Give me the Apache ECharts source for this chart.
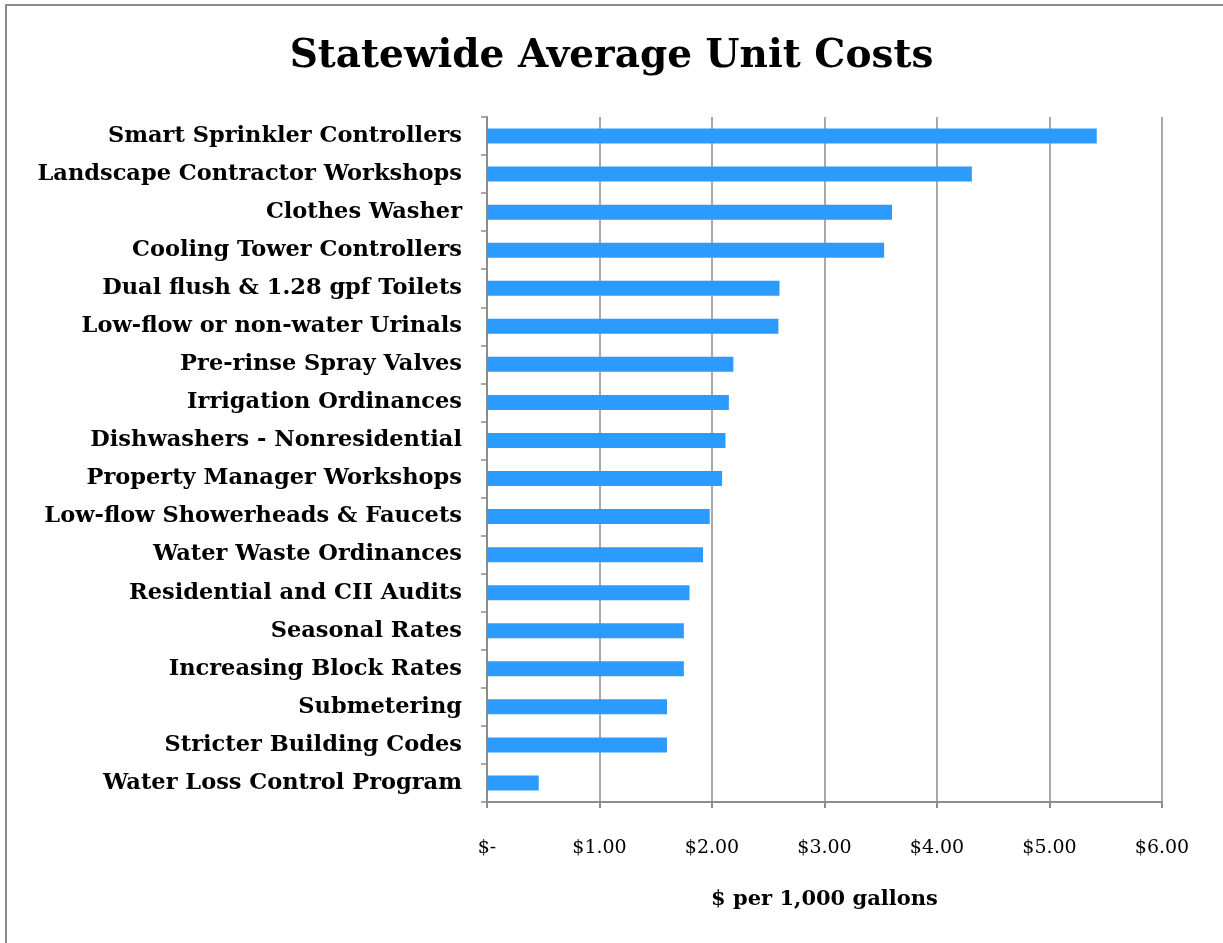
<!DOCTYPE html>
<html><head><meta charset="utf-8">
<script src="https://cdn.jsdelivr.net/npm/echarts@6/dist/echarts.min.js"></script>
<style>
html,body{margin:0;padding:0;overflow:hidden;background:#fff;}
#frame{position:absolute;left:5px;top:4px;width:1260px;height:980px;border:2px solid #8a8a8a;box-sizing:border-box;}
#main{position:absolute;left:0;top:0;width:1223px;height:943px;}
</style></head>
<body>
<div id="frame"></div>
<div id="main"></div>
<script>
const categories = [
  "Smart Sprinkler Controllers",
  "Landscape Contractor Workshops",
  "Clothes Washer",
  "Cooling Tower Controllers",
  "Dual flush & 1.28 gpf Toilets",
  "Low-flow or non-water Urinals",
  "Pre-rinse Spray Valves",
  "Irrigation Ordinances",
  "Dishwashers - Nonresidential",
  "Property Manager Workshops",
  "Low-flow Showerheads & Faucets",
  "Water Waste Ordinances",
  "Residential and CII Audits",
  "Seasonal Rates",
  "Increasing Block Rates",
  "Submetering",
  "Stricter Building Codes",
  "Water Loss Control Program"
];
const costs = [5.42, 4.31, 3.60, 3.53, 2.60, 2.59, 2.19, 2.15, 2.12, 2.09, 1.98, 1.92, 1.80, 1.75, 1.75, 1.60, 1.60, 0.46];
const xTicks = [0, 1, 2, 3, 4, 5, 6];

const FONT = "DejaVu Serif";
const chart = echarts.init(document.getElementById('main'), null, {renderer: 'canvas'});
chart.setOption({
  animation: false,
  title: {
    text: "Statewide Average Unit Costs",
    left: 'center', top: 32,
    textStyle: {fontFamily: FONT, fontWeight: 'bold', fontSize: 39, color: '#000'}
  },
  grid: {left: 487, right: 61, top: 117, bottom: 141, containLabel: false},
  xAxis: {
    type: 'value', min: xTicks[0], max: xTicks[xTicks.length - 1], interval: 1,
    name: "$ per 1,000 gallons", nameLocation: 'middle', nameGap: 87,
    nameTextStyle: {fontFamily: FONT, fontWeight: 'bold', fontSize: 21, color: '#000'},
    axisLine: {show: true, lineStyle: {color: '#8c8c8c', width: 2}},
    axisTick: {show: true, length: 6, lineStyle: {color: '#8c8c8c', width: 2}},
    splitLine: {show: true, lineStyle: {color: '#8c8c8c', width: 1.5}},
    axisLabel: {
      margin: 37, fontFamily: FONT, fontSize: 19, color: '#000',
      formatter: v => v === 0 ? '$-' : '$' + v.toFixed(2)
    }
  },
  yAxis: {
    type: 'category', data: categories, inverse: true,
    axisLine: {show: true, lineStyle: {color: '#8c8c8c', width: 2}},
    axisTick: {show: true, length: 6, alignWithLabel: false, lineStyle: {color: '#8c8c8c', width: 1.5}},
    splitLine: {show: false},
    axisLabel: {margin: 25, fontFamily: FONT, fontWeight: 'bold', fontSize: 22.5, color: '#000'}
  },
  series: [{
    type: 'bar', data: costs, barWidth: 15,
    itemStyle: {color: '#2b9bff'}
  }]
});
</script>
</body></html>
